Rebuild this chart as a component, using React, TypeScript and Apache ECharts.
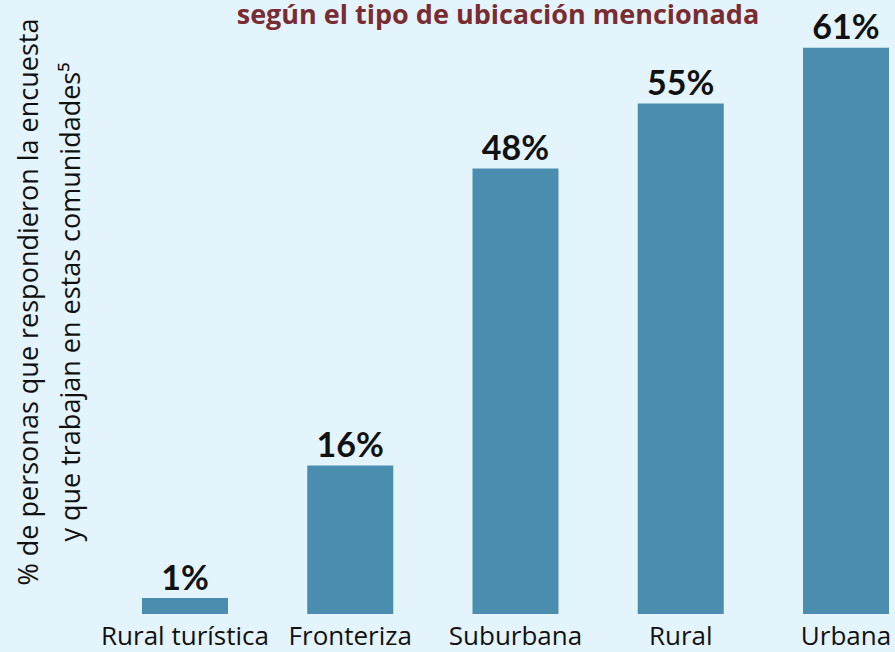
import React, { useEffect, useRef } from "react";
import * as echarts from "echarts";

const categories = ["Rural turística", "Fronteriza", "Suburbana", "Rural", "Urbana"];
const values = [1, 16, 48, 55, 61];
const titleText = "según el tipo de ubicación mencionada";
const yNameLine1 = "% de personas que respondieron la encuesta";
const yNameLine2 = "y que trabajan en estas comunidades⁵";

export default function App() {
  const ref = useRef<HTMLDivElement>(null);
  useEffect(() => {
    if (!ref.current) return;
    const chart = echarts.init(ref.current, undefined, { renderer: "svg" });
    chart.setOption({
      animation: false,
      backgroundColor: "#e4f4fc",
      grid: { left: 185, right: 49, top: 20, bottom: 38 },
      xAxis: {
        type: "category",
        data: categories,
        boundaryGap: false,
        axisLine: { show: false },
        axisTick: { show: false },
        axisLabel: {
          interval: 0,
          color: "#111",
          fontSize: 26,
          fontFamily: "Open Sans",
          margin: 8,
        },
      },
      yAxis: {
        type: "value",
        min: 0,
        max: 64,
        show: false,
      },
      series: [
        {
          type: "bar",
          data: values,
          barWidth: 86,
          barMinHeight: 16,
          itemStyle: { color: "#4a8daf" },
          label: {
            show: true,
            position: "top",
            distance: 5,
            formatter: "{c}%",
            color: "#111",
            fontSize: 34,
            fontWeight: "bold",
            fontFamily: "Lato",
          },
        },
      ],
      graphic: [
        {
          type: "text",
          x: 498,
          y: 13,
          style: {
            text: titleText,
            fill: "#7a2c33",
            fontSize: 27,
            fontWeight: "bold",
            fontFamily: "Open Sans",
            textAlign: "center",
            textVerticalAlign: "middle",
          },
        },
        {
          type: "text",
          x: 27,
          y: 302,
          rotation: Math.PI / 2,
          style: {
            text: yNameLine1,
            fill: "#111",
            fontSize: 27,
            fontFamily: "Open Sans",
            textAlign: "center",
            textVerticalAlign: "middle",
          },
        },
        {
          type: "text",
          x: 69,
          y: 302,
          rotation: Math.PI / 2,
          style: {
            text: yNameLine2,
            fill: "#111",
            fontSize: 27,
            fontFamily: "Open Sans",
            textAlign: "center",
            textVerticalAlign: "middle",
          },
        },
      ],
    });
    return () => chart.dispose();
  }, []);
  return (
    <div
      ref={ref}
      style={{ position: "fixed", left: 0, top: 0, width: 895, height: 652 }}
    />
  );
}
